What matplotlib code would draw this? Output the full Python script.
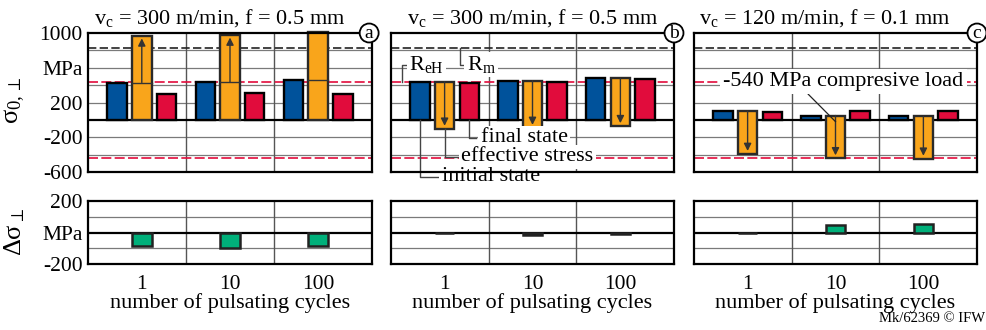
import matplotlib
matplotlib.use('Agg')
import matplotlib.pyplot as plt
import numpy as np

plt.rcParams['font.family'] = ['Liberation Serif', 'DejaVu Serif']
plt.rcParams['mathtext.fontset'] = 'custom'
plt.rcParams['mathtext.rm'] = 'Liberation Serif'
plt.rcParams['mathtext.it'] = 'Liberation Serif:italic'
plt.rcParams['mathtext.fallback'] = 'stix'

# ---------------- data ----------------
cycles = ['1', '10', '100']
titles = [r'v$_\mathrm{c}$ = 300 m/min, f = 0.5 mm',
          r'v$_\mathrm{c}$ = 300 m/min, f = 0.5 mm',
          r'v$_\mathrm{c}$ = 120 m/min, f = 0.1 mm']
tags = ['a', 'b', 'c']

initial_a = [430, 435, 460]
effective_a = [970, 980, 1010]
final_a = [300, 305, 295]
delta_a = [-85, -100, -85]

initial_b = [440, 450, 480]
effective_b = [-100, -90, -70]
final_b = [430, 440, 470]
delta_b = [-5, -16, -10]

initial_c = [100, 50, 40]
effective_c = [-390, -440, -445]
final_c = [95, 100, 100]
delta_c = [-5, 50, 55]

R_eH = 440
R_m = 830

top_yticks = [1000, 600, 200, -200, -600]
top_ylabels = ['1000', 'MPa', '200', '-200', '-600']
bot_yticks = [200, 0, -200]
bot_ylabels = ['200', 'MPa', '-200']

# ---------------- style ----------------
BLUE = '#00529b'
ORANGE = '#f9a51b'
RED = '#e10c3c'
GREEN = '#00b07a'
GRID = '#7a7a7a'
SEP = '#555555'
FS = 15.5
TFS = 16

fig = plt.figure(figsize=(9.87, 3.30), dpi=100)
W, H = 987.0, 330.0
lefts = [88, 391, 694]
widths = [284, 283, 283]
top_axes, bot_axes = [], []
for l, w in zip(lefts, widths):
    top_axes.append(fig.add_axes([l / W, 1 - 172 / H, w / W, 139 / H]))
    bot_axes.append(fig.add_axes([l / W, 1 - 264 / H, w / W, 63 / H]))

x = np.arange(3)
XL = (-0.61, 2.61)
BW = 0.22
OFF = 0.28


def frame(ax):
    for s in ax.spines.values():
        s.set_linewidth(1.6)
        s.set_color('black')
        s.set_zorder(6)
    ax.tick_params(length=0, labelsize=FS)


def draw_top(ax, init, eff, fin):
    ax.set_xlim(*XL)
    ax.set_ylim(-600, 1000)
    for yy in range(-400, 1000, 200):
        if yy != 0:
            ax.axhline(yy, color=GRID, lw=0.9, zorder=1)
    ax.axhline(0, color='black', lw=1.6, zorder=2)
    for xs in (0.5, 1.5):
        ax.axvline(xs, color=SEP, lw=1.0, zorder=1)
    ax.axhline(R_m, color='#222222', lw=1.2, ls=(0, (5, 2)), zorder=2)
    ax.axhline(R_eH, color=RED, lw=1.2, ls=(0, (6, 2)), zorder=2)
    ax.axhline(-R_eH, color=RED, lw=1.2, ls=(0, (6, 2)), zorder=2)
    init = np.array(init, float)
    eff = np.array(eff, float)
    fin = np.array(fin, float)
    lo = np.minimum(np.minimum(0, init), eff)
    hi = np.maximum(np.maximum(0, init), eff)
    ax.bar(x - OFF, init, BW, color=BLUE, edgecolor='black', lw=1.7, zorder=3)
    ax.bar(x, hi - lo, BW, bottom=lo, color=ORANGE, edgecolor='#2a2a2a', lw=1.7,
           zorder=3, clip_on=False)
    ax.bar(x + OFF, fin, BW, color=RED, edgecolor='black', lw=1.7, zorder=3)
    for xi, i0, e, l_, h_ in zip(x, init, eff, lo, hi):
        if l_ < i0 < h_:
            ax.plot([xi - BW / 2, xi + BW / 2], [i0, i0], color='#333333', lw=1.0, zorder=4)
        ax.annotate('', xy=(xi, e), xytext=(xi, i0),
                    arrowprops=dict(arrowstyle='-|>', color='#333333', lw=1.0,
                                    mutation_scale=11, shrinkA=0, shrinkB=2),
                    zorder=4)
    ax.set_xticks([])
    ax.set_yticks(top_yticks)
    frame(ax)


def draw_bottom(ax, delta):
    ax.set_xlim(*XL)
    ax.set_ylim(-200, 200)
    for yy in (-100, 100):
        ax.axhline(yy, color=GRID, lw=0.9, zorder=1)
    ax.axhline(0, color='black', lw=1.6, zorder=2)
    for xs in (0.5, 1.5):
        ax.axvline(xs, color=SEP, lw=1.0, zorder=1)
    ax.bar(x, delta, BW, color=GREEN, edgecolor='#222222', lw=1.8, zorder=3)
    ax.set_xticks(x)
    ax.set_xticklabels(cycles)
    ax.set_yticks(bot_yticks)
    frame(ax)
    ax.tick_params(axis='x', pad=8)
    ax.set_xlabel('number of pulsating cycles', fontsize=TFS, labelpad=-1)


draw_top(top_axes[0], initial_a, effective_a, final_a)
draw_top(top_axes[1], initial_b, effective_b, final_b)
draw_top(top_axes[2], initial_c, effective_c, final_c)
draw_bottom(bot_axes[0], delta_a)
draw_bottom(bot_axes[1], delta_b)
draw_bottom(bot_axes[2], delta_c)

top_axes[0].set_yticklabels(top_ylabels)
bot_axes[0].set_yticklabels(bot_ylabels)
for ax in top_axes[1:] + bot_axes[1:]:
    ax.set_yticklabels([])
for ax in top_axes + bot_axes:
    ax.tick_params(axis='y', pad=4)

title_x = [0.463, 0.499, 0.461]
for ax, t, tx, tag in zip(top_axes, titles, title_x, tags):
    ax.text(tx, 1.03, t, transform=ax.transAxes, ha='center', va='bottom', fontsize=TFS)
    ax.text(0.99 if tag == 'a' else 1.0, 1.0, tag, transform=ax.transAxes, ha='center',
            va='center', fontsize=14, zorder=10, clip_on=False,
            bbox=dict(boxstyle='circle,pad=0.05', fc='white', ec='black', lw=1.3))

fig.text(15 / W, 1 - 100 / H, r'$\mathrm{σ}_{0,\perp}$', rotation=90, ha='center', va='center', fontsize=19)
fig.text(15 / W, 1 - 232 / H, r'$\Delta\mathrm{σ}_{\perp}$', rotation=90, ha='center', va='center', fontsize=19)

# ---------------- annotations panel b ----------------
axb = top_axes[1]
lc = '#444444'
wb = dict(boxstyle='square,pad=0.1', fc='white', ec='none')
# R_eH bracket
axb.plot([-0.49, -0.49, -0.43], [R_eH, 636, 636], color=lc, lw=1.0, zorder=5)
axb.text(-0.40, 636, r'R$_\mathrm{eH}$', ha='left', va='center', fontsize=TFS, zorder=6, bbox=wb)
# R_m bracket
axb.plot([0.18, 0.18, 0.23], [R_m, 636, 636], color=lc, lw=1.0, zorder=5)
axb.text(0.25, 636, r'R$_\mathrm{m}$', ha='left', va='center', fontsize=TFS, zorder=6, bbox=wb)
# final state
axb.plot([OFF, OFF, 0.36], [0, -207, -207], color=lc, lw=1.0, zorder=5)
axb.text(0.41, -207, 'final state', ha='left', va='center', fontsize=TFS, zorder=6, bbox=wb)
# effective stress
axb.plot([0, 0, 0.17], [effective_b[0], -426, -426], color=lc, lw=1.0, zorder=5)
axb.text(0.19, -426, 'effective stress', ha='left', va='center', fontsize=TFS, zorder=6, bbox=wb)
# initial state
axb.plot([-OFF, -OFF, -0.06], [0, -657, -657], color=lc, lw=1.0, zorder=5, clip_on=False)
axb.text(-0.035, -657, 'initial state', ha='left', va='center', fontsize=TFS, zorder=6,
         bbox=wb, clip_on=False)

# ---------------- annotation panel c ----------------
axc = top_axes[2]
axc.plot([0.69, 1.0], [295, -20], color='#222222', lw=0.9, zorder=5)
axc.text(1.09, 440, '-540 MPa compresive load', ha='center', va='center', fontsize=TFS,
         zorder=6, bbox=dict(boxstyle='square,pad=0.15', fc='white', ec='none'))

fig.text(985 / W, 1 - 318 / H, 'Mk/62369 © IFW', ha='right', va='center', fontsize=10.5)

fig.savefig('out.png', dpi=100)
